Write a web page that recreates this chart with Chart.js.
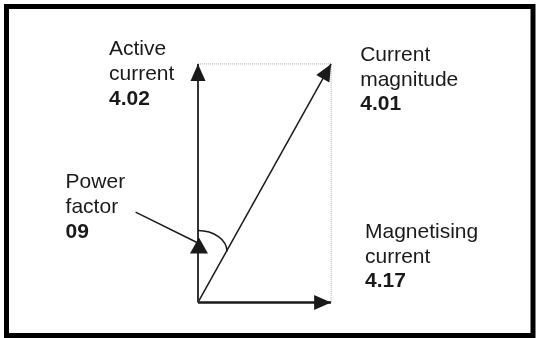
<!DOCTYPE html>
<html>
<head>
<meta charset="utf-8">
<script src="https://cdn.jsdelivr.net/npm/chart.js@4"></script>
<style>
  html, body { margin: 0; padding: 0; background: #fff; }
  #wrap { width: 536px; height: 338px; }
</style>
</head>
<body>
<div id="wrap"><canvas id="chart" width="536" height="338"></canvas></div>
<script>
// vector values (normalised to the active current)
const vectorNames = ["Active current", "Current magnitude", "Magnetising current", "Power factor"];
const paramCodes = ["4.02", "4.01", "4.17", "09"];
const activeCurrent = [1.0];
const magnetisingCurrent = [0.558];

// where each caption sits, in diagram units (left edge, first baseline)
const captionPos = [
  { x: -0.373, y: 1.036 },  // Active current
  { x: 0.680, y: 1.013 },   // Current magnitude
  { x: 0.700, y: 0.270 },   // Magnetising current
  { x: -0.555, y: 0.479 }   // Power factor
];

const ia = activeCurrent[0];
const im = magnetisingCurrent[0];

const ink = "#1a1a1a";

// arrow heads, captions, angle arc and frame
const diagramPlugin = {
  id: "diagram",
  afterDatasetsDraw(chart) {
    const ctx = chart.ctx;
    const xs = chart.scales.x, ys = chart.scales.y;
    const px = v => xs.getPixelForValue(v);
    const py = v => ys.getPixelForValue(v);

    function head(x0, y0, x1, y1, len, half) {
      const a = Math.atan2(y1 - y0, x1 - x0);
      ctx.save();
      ctx.translate(x1, y1);
      ctx.rotate(a);
      ctx.beginPath();
      ctx.moveTo(0, 0);
      ctx.lineTo(-len, -half);
      ctx.lineTo(-len, half);
      ctx.closePath();
      ctx.fillStyle = ink;
      ctx.fill();
      ctx.restore();
    }

    chart.data.datasets.forEach((ds, i) => {
      if (!ds.arrow) return;
      const pts = chart.getDatasetMeta(i).data;
      const a = pts[pts.length - 2], b = pts[pts.length - 1];
      head(a.x, a.y, b.x, b.y, 17, 7.5);
    });

    // angle arc between active current and current magnitude
    const ox = px(0), oy = py(0);
    ctx.save();
    ctx.strokeStyle = ink;
    ctx.lineWidth = 1.5;
    ctx.beginPath();
    ctx.ellipse(ox, oy - 51, 29, 21, 0, -Math.PI / 2, 0);
    ctx.stroke();

    // power factor pointer
    const sx = px(captionPos[3].x) + 70, sy = py(captionPos[3].y) + 24;
    const ex = ox - 1, ey = oy - 60;
    ctx.lineWidth = 1.5;
    ctx.beginPath();
    ctx.moveTo(sx, sy);
    ctx.lineTo(ex, ey);
    ctx.stroke();
    ctx.beginPath();
    ctx.moveTo(ox + 1, oy - 65);
    ctx.lineTo(ox - 8, oy - 49);
    ctx.lineTo(ox + 10, oy - 49);
    ctx.closePath();
    ctx.fillStyle = ink;
    ctx.fill();

    // captions
    ctx.fillStyle = ink;
    ctx.textBaseline = "alphabetic";
    ctx.textAlign = "left";
    vectorNames.forEach((name, i) => {
      const x = px(captionPos[i].x), y = py(captionPos[i].y);
      let lines;
      if (name === "Current magnitude") lines = ["Current", "magnitude"];
      else lines = name.split(" ");
      ctx.font = "21px 'Liberation Sans', Arial, sans-serif";
      lines.forEach((t, k) => ctx.fillText(t, x, y + k * 24.7));
      ctx.font = "bold 21px 'Liberation Sans', Arial, sans-serif";
      ctx.fillText(paramCodes[i], x, y + lines.length * 24.7);
    });

    // frame
    ctx.strokeStyle = "#000";
    ctx.lineWidth = 5;
    ctx.strokeRect(6.5, 6.5, 526.5, 329);
    ctx.restore();
  }
};

new Chart(document.getElementById("chart"), {
  type: "scatter",
  data: {
    datasets: [
      {
        label: "Active current",
        data: [{ x: 0, y: 0 }, { x: 0, y: ia }],
        showLine: true, borderColor: "#333", borderWidth: 2, pointRadius: 0, arrow: true
      },
      {
        label: "Magnetising current",
        data: [{ x: 0, y: 0 }, { x: im, y: 0 }],
        showLine: true, borderColor: ink, borderWidth: 2.5, pointRadius: 0, arrow: true
      },
      {
        label: "Current magnitude",
        data: [{ x: 0, y: 0 }, { x: im, y: ia }],
        showLine: true, borderColor: ink, borderWidth: 1.5, pointRadius: 0, arrow: true
      },
      {
        label: "projection",
        data: [{ x: 0, y: ia }, { x: im, y: ia }, { x: im, y: 0 }],
        showLine: true, borderColor: "#aaa", borderWidth: 1, borderDash: [1, 1],
        pointRadius: 0
      }
    ]
  },
  options: {
    responsive: false,
    animation: false,
    devicePixelRatio: 1,
    layout: { padding: 0 },
    plugins: { legend: { display: false }, tooltip: { enabled: false } },
    scales: {
      x: { type: "linear", display: false, min: -0.830, max: 1.417 },
      y: { type: "linear", display: false, min: -0.149, max: 1.268 }
    }
  },
  plugins: [diagramPlugin]
});
</script>
</body>
</html>
